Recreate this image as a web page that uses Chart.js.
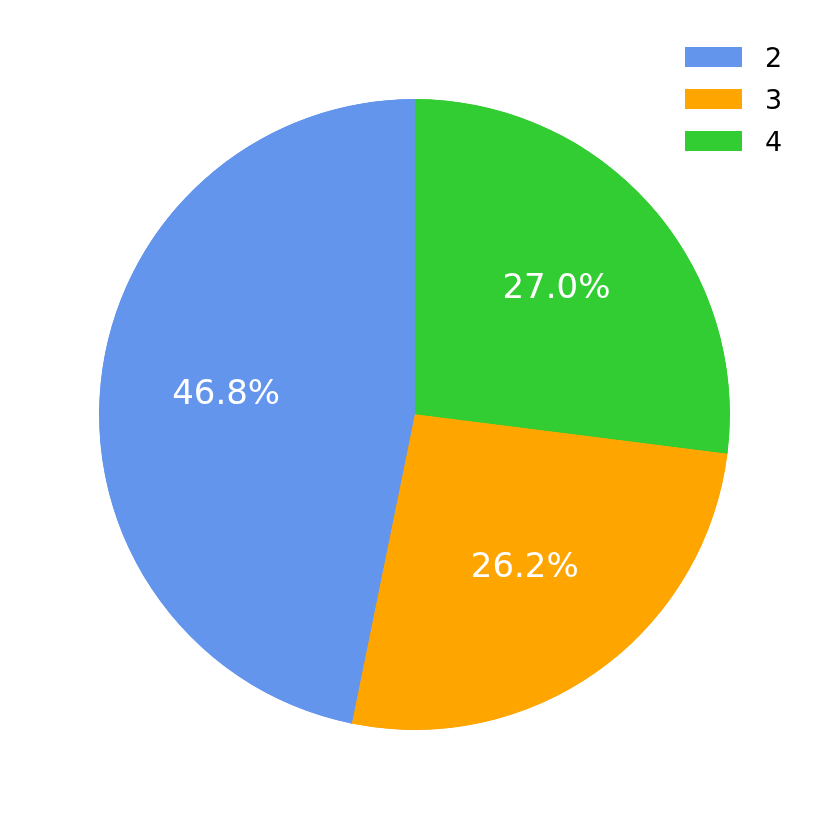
<!DOCTYPE html>
<html>
<head>
<meta charset="utf-8">
<script src="https://cdn.jsdelivr.net/npm/chart.js@4/dist/chart.umd.min.js"></script>
<style>
  html, body { margin: 0; padding: 0; background: #ffffff; }
  #wrap { position: relative; width: 829px; height: 829px; }
  #legend { position: absolute; left: 685px; top: 47px; font-family: "DejaVu Sans", sans-serif; font-size: 27px; color: #000; }
  .row { position: relative; height: 42px; }
  .sw { position: absolute; left: 0; top: 0; width: 57px; height: 20px; }
  .lbl { position: absolute; left: 80px; top: -4px; line-height: 30px; }
</style>
</head>
<body>
<div id="wrap">
  <canvas id="c" width="829" height="829"></canvas>
  <div id="legend"></div>
</div>
<script>
const categories = ['2', '3', '4'];
const values = [46.8, 26.2, 27.0];
const colors = ['#6495ED', '#FFA500', '#32CD32'];

// matplotlib draws counterclockwise from the top; Chart.js draws clockwise,
// so feed the slices in reverse order.
const order = categories.map((_, i) => i).reverse();

const total = values.reduce((a, b) => a + b, 0);

const pctLabels = {
  id: 'pctLabels',
  afterDatasetsDraw(chart) {
    const ctx = chart.ctx;
    const meta = chart.getDatasetMeta(0);
    ctx.save();
    ctx.font = '34px "DejaVu Sans"';
    ctx.fillStyle = '#ffffff';
    ctx.textAlign = 'center';
    ctx.textBaseline = 'middle';
    meta.data.forEach((arc, i) => {
      const mid = (arc.startAngle + arc.endAngle) / 2;
      const r = arc.outerRadius * 0.6;
      const x = arc.x + Math.cos(mid) * r;
      const y = arc.y + Math.sin(mid) * r;
      const v = chart.data.datasets[0].data[i];
      ctx.fillText((v / total * 100).toFixed(1) + '%', x, y);
    });
    ctx.restore();
  }
};

new Chart(document.getElementById('c'), {
  type: 'pie',
  data: {
    labels: order.map(i => categories[i]),
    datasets: [{
      data: order.map(i => values[i]),
      backgroundColor: order.map(i => colors[i]),
      borderColor: order.map(i => colors[i]),
      borderWidth: 0.8,
      borderAlign: 'inner',
      hoverOffset: 0
    }]
  },
  options: {
    responsive: false,
    animation: false,
    layout: { padding: { left: 99, right: 99, top: 99, bottom: 99 } },
    plugins: { legend: { display: false }, tooltip: { enabled: false } }
  },
  plugins: [pctLabels]
});

const legend = document.getElementById('legend');
categories.forEach((c, i) => {
  const row = document.createElement('div');
  row.className = 'row';
  row.innerHTML = '<div class="sw" style="background:' + colors[i] + '"></div><div class="lbl">' + c + '</div>';
  legend.appendChild(row);
});
</script>
</body>
</html>
